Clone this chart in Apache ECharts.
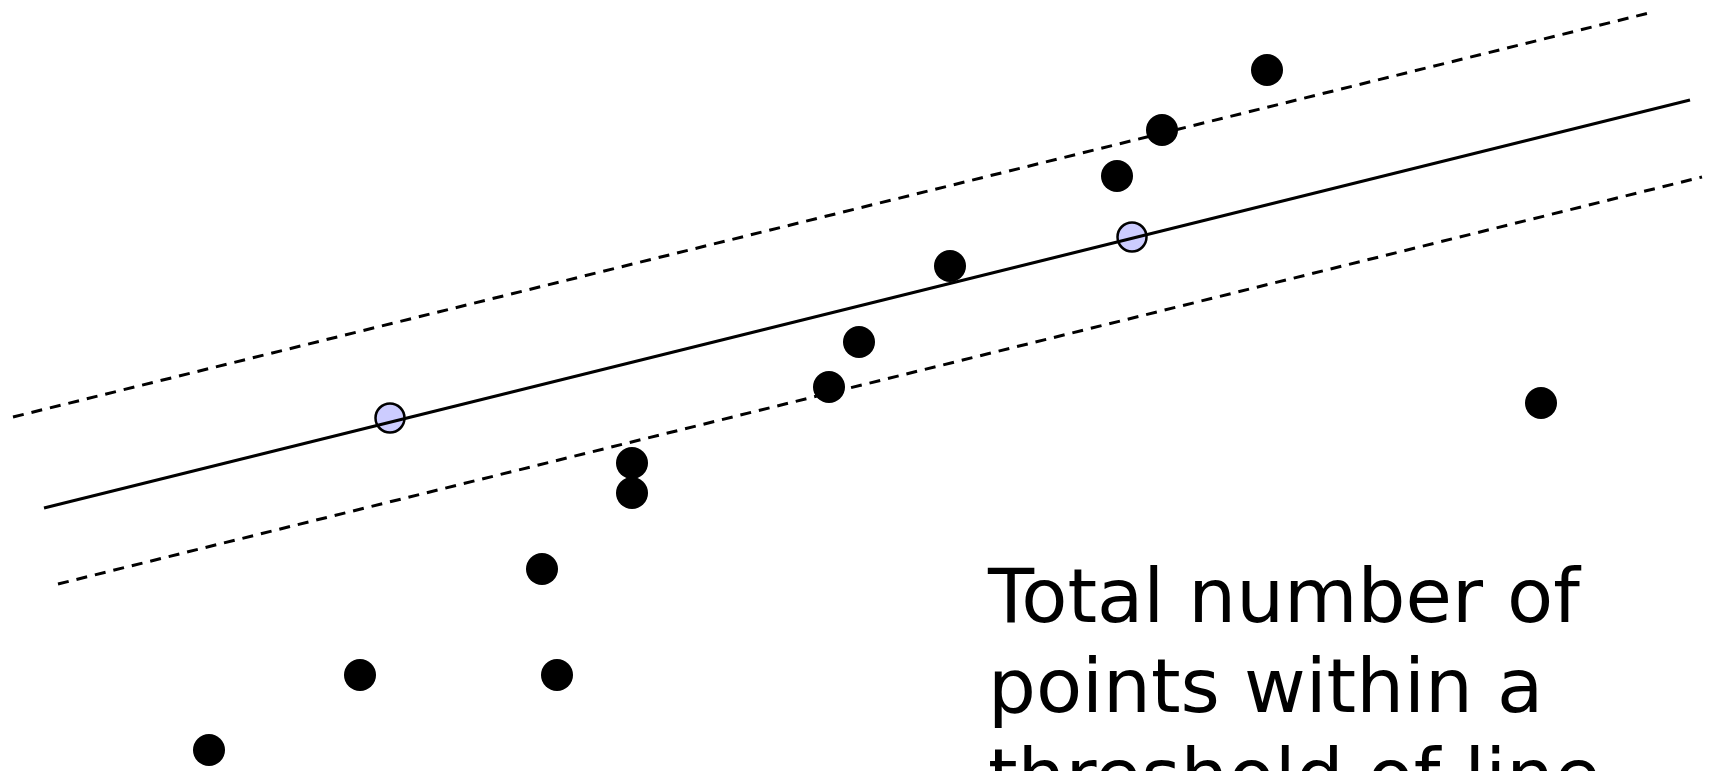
<!DOCTYPE html>
<html>
<head>
<meta charset="utf-8">
<title>RANSAC line fit</title>
<script src="https://cdn.jsdelivr.net/npm/echarts@6/dist/echarts.min.js"></script>
<style>
  html, body { margin: 0; padding: 0; background: #fff; }
  #chart { width: 1712px; height: 771px; }
</style>
</head>
<body>
<div id="chart"></div>
<script>
// data points (x, y) - y grows upwards
var pointX = [1267, 1162, 1117, 950, 859, 829, 632, 632, 542, 360, 557, 209, 1541]
var pointY = [701, 641, 595, 505, 429, 384, 308, 278, 202, 96, 96, 21, 368]

// the two sampled points used to fit the line
var sampleX = [390, 1132]
var sampleY = [353, 534]

// fitted line and the threshold band around it (start / end)
var fitLineX = [44, 1690]
var fitLineY = [263, 671]
var upperBandX = [13, 1653]
var upperBandY = [354, 759]
var lowerBandX = [58, 1702]
var lowerBandY = [187, 594]

var labelText = 'Total number of\npoints within a\nthreshold of line'

function pairs(xs, ys) {
  return xs.map(function (x, i) { return [x, ys[i]] })
}

var chart = echarts.init(document.getElementById('chart'))
chart.setOption({
  animation: false,
  backgroundColor: '#ffffff',
  title: {
    text: labelText,
    left: 988,
    top: 557,
    padding: 0,
    textStyle: {
      fontFamily: 'DejaVu Sans',
      fontWeight: 'normal',
      fontSize: 75.5,
      lineHeight: 90,
      color: '#000'
    }
  },
  grid: { left: 0, right: 0, top: 0, bottom: 0 },
  xAxis: { type: 'value', min: 0, max: 1712, show: false },
  yAxis: { type: 'value', min: 0, max: 771, show: false },
  series: [
    {
      name: 'upper threshold',
      type: 'line',
      data: pairs(upperBandX, upperBandY),
      symbol: 'none',
      z: 1,
      lineStyle: { color: '#000', width: 3, type: [11, 8] }
    },
    {
      name: 'lower threshold',
      type: 'line',
      data: pairs(lowerBandX, lowerBandY),
      symbol: 'none',
      z: 1,
      lineStyle: { color: '#000', width: 3, type: [11, 8] }
    },
    {
      name: 'samples',
      type: 'scatter',
      data: pairs(sampleX, sampleY),
      symbolSize: 29,
      z: 2,
      itemStyle: { color: '#ccccff', borderColor: '#000', borderWidth: 2.5, opacity: 1 }
    },
    {
      name: 'fit',
      type: 'line',
      data: pairs(fitLineX, fitLineY),
      symbol: 'none',
      z: 3,
      lineStyle: { color: '#000', width: 3 }
    },
    {
      name: 'points',
      type: 'scatter',
      data: pairs(pointX, pointY),
      symbolSize: 32,
      z: 4,
      itemStyle: { color: '#000', opacity: 1 }
    }
  ]
})
</script>
</body>
</html>
